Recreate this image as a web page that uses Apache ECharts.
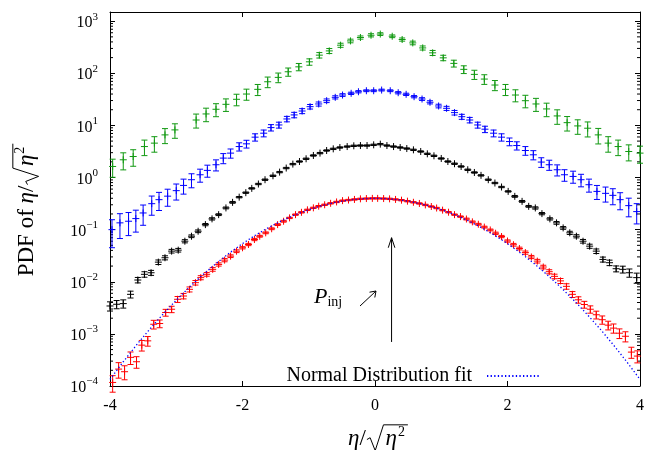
<!DOCTYPE html>
<html><head><meta charset="utf-8">
<script src="https://cdn.jsdelivr.net/npm/echarts@6/dist/echarts.min.js"></script>
<style>html,body{margin:0;padding:0;background:#fff}#c{width:662px;height:450px}</style>
</head><body><div id="c"></div>
<script>
// ---------------- data ----------------
const greenX = [-3.96,-3.80,-3.65,-3.48,-3.33,-3.17,-3.02,-2.86,-2.70,-2.55,-2.40,-2.25,-2.09,-1.94,-1.77,-1.62,-1.46,-1.31,-1.15,-0.99,-0.84,-0.69,-0.52,-0.37,-0.22,-0.06,0.08,0.26,0.41,0.57,0.72,0.87,1.03,1.19,1.34,1.50,1.65,1.81,1.97,2.12,2.27,2.43,2.59,2.75,2.90,3.06,3.21,3.37,3.52,3.67,3.83,4.00];
const greenY = [1.63,2.19,2.53,3.93,4.57,6.58,8.2,null,12.7,16.6,20.4,25.4,31.7,40.0,49.2,68.8,83.5,107,133,166,223,269,346,418,486,537,566,514,445,383,307,247,198,155,119,95.3,77.5,59.5,49.2,38.3,29.8,25.8,20.7,15.2,11.3,9.78,8.83,6.58,4.57,3.93,3.16,2.94];
const greenErr = [0.38,0.36,0.35,0.33,0.33,0.32,0.31,null,0.3,0.29,0.28,0.27,0.25,0.24,0.24,0.23,0.21,0.18,0.16,0.14,0.12,0.11,0.09,0.08,0.07,0.07,0.06,0.06,0.07,0.08,0.09,0.11,0.12,0.15,0.17,0.2,0.21,0.22,0.24,0.26,0.27,0.28,0.29,0.31,0.31,0.31,0.32,0.33,0.33,0.33,0.34,0.36];

const blueX = [-3.97,-3.85,-3.72,-3.61,-3.50,-3.37,-3.26,-3.13,-3.00,-2.89,-2.77,-2.64,-2.53,-2.40,-2.29,-2.18,-2.05,-1.94,-1.81,-1.68,-1.57,-1.45,-1.33,-1.22,-1.10,-0.98,-0.85,-0.73,-0.60,-0.49,-0.36,-0.25,-0.13,-0.02,0.10,0.23,0.35,0.47,0.59,0.71,0.83,0.96,1.08,1.20,1.31,1.43,1.55,1.66,1.79,1.91,2.03,2.14,2.27,2.39,2.51,2.63,2.75,2.86,2.99,3.11,3.23,3.35,3.48,3.59,3.70,3.83,3.95];
const blueY = [0.100,0.135,0.145,0.163,0.209,0.315,0.376,0.439,0.560,0.706,0.908,1.13,1.37,1.76,2.36,2.94,3.93,4.43,5.95,7.09,9.08,10.2,13.3,15.9,18.9,22.9,25.8,29.8,34.6,38.3,41.3,44.3,46.3,46.3,47.7,46.3,42.4,39.5,35.6,32.1,27.8,23.6,21.3,17.6,14.7,12.7,10.2,8.46,7.09,5.95,4.90,4.11,3.30,2.73,1.98,1.76,1.41,1.13,1.05,0.908,0.728,0.542,0.497,0.455,0.376,0.289,0.222];
const blueErr = [0.55,0.5,0.47,0.45,0.42,0.4,0.38,0.36,0.34,0.32,0.3,0.28,0.26,0.24,0.22,0.2,0.18,0.17,0.16,0.15,0.14,0.13,0.12,0.12,0.11,0.1,0.09,0.08,0.07,0.06,0.05,0.05,0.04,0.04,0.04,0.04,0.05,0.05,0.05,0.06,0.07,0.08,0.09,0.1,0.11,0.12,0.13,0.14,0.15,0.16,0.17,0.18,0.19,0.2,0.21,0.22,0.24,0.25,0.26,0.27,0.28,0.3,0.32,0.34,0.36,0.39,0.42];

const blackX = [-4.00,-3.90,-3.80,-3.69,-3.58,-3.48,-3.38,-3.27,-3.17,-3.07,-2.97,-2.87,-2.77,-2.67,-2.56,-2.46,-2.36,-2.25,-2.15,-2.05,-1.95,-1.86,-1.76,-1.66,-1.54,-1.44,-1.34,-1.24,-1.14,-1.04,-0.93,-0.83,-0.73,-0.63,-0.53,-0.42,-0.32,-0.22,-0.12,-0.02,0.08,0.18,0.28,0.38,0.48,0.58,0.69,0.79,0.89,1.00,1.10,1.20,1.30,1.40,1.50,1.60,1.71,1.81,1.91,2.01,2.11,2.22,2.32,2.42,2.52,2.64,2.74,2.84,2.94,3.04,3.14,3.24,3.34,3.44,3.54,3.64,3.74,3.84,3.95];
const blackY = [0.00343,0.00370,0.00381,0.00574,0.0108,0.0139,0.0149,0.0238,0.0289,0.0387,0.0404,0.0600,0.0748,0.0932,0.125,0.161,0.194,0.261,0.334,0.420,0.512,0.619,0.751,0.908,1.08,1.27,1.52,1.81,2.03,2.29,2.65,2.94,3.30,3.55,3.77,3.93,4.06,4.11,4.11,4.24,4.37,4.11,3.93,3.77,3.60,3.40,3.16,2.85,2.61,2.32,2.03,1.84,1.63,1.41,1.25,1.10,0.908,0.785,0.658,0.542,0.435,0.349,0.280,0.261,0.203,0.161,0.135,0.108,0.0869,0.0748,0.0600,0.0482,0.0387,0.0268,0.0232,0.0178,0.0173,0.0149,0.0120];
const blackErr = [0.2,0.18,0.18,0.15,0.12,0.12,0.11,0.1,0.09,0.08,0.08,0.07,0.06,0.06,0.05,0.05,0.04,0.04,0.04,0.03,0.03,0.03,0.03,0.03,0.03,0.03,0.03,0.03,0.03,0.03,0.03,0.03,0.03,0.03,0.03,0.03,0.03,0.03,0.03,0.03,0.03,0.03,0.03,0.03,0.03,0.03,0.03,0.03,0.03,0.03,0.03,0.03,0.03,0.03,0.03,0.03,0.03,0.03,0.03,0.03,0.04,0.04,0.04,0.05,0.05,0.05,0.06,0.06,0.07,0.07,0.08,0.09,0.1,0.11,0.12,0.13,0.15,0.18,0.22];

const redX = [-3.96,-3.87,-3.78,-3.69,-3.60,-3.52,-3.43,-3.34,-3.25,-3.16,-3.07,-2.98,-2.89,-2.80,-2.71,-2.63,-2.54,-2.45,-2.36,-2.27,-2.18,-2.09,-2.00,-1.91,-1.82,-1.74,-1.65,-1.56,-1.47,-1.38,-1.29,-1.20,-1.11,-1.02,-0.93,-0.85,-0.76,-0.67,-0.58,-0.49,-0.40,-0.31,-0.22,-0.13,-0.04,0.04,0.13,0.22,0.31,0.40,0.49,0.58,0.67,0.76,0.85,0.93,1.02,1.11,1.20,1.29,1.38,1.47,1.56,1.65,1.74,1.82,1.91,2.00,2.09,2.18,2.27,2.36,2.45,2.54,2.63,2.71,2.80,2.89,2.98,3.07,3.16,3.25,3.34,3.43,3.52,3.60,3.69,3.78,3.87,3.96];
const redY = [1.17e-4,2.11e-4,1.88e-4,3.54e-4,2.92e-4,6.08e-4,7.35e-4,1.53e-3,1.58e-3,2.57e-3,2.97e-3,4.61e-3,5.33e-3,7.16e-3,9.61e-3,1.20e-2,1.39e-2,1.73e-2,2.15e-2,2.60e-2,3.10e-2,3.86e-2,4.49e-2,5.19e-2,6.47e-2,7.48e-2,8.69e-2,0.104,0.125,0.145,0.168,0.194,0.215,0.240,0.262,0.282,0.300,0.320,0.340,0.360,0.370,0.380,0.390,0.395,0.398,0.398,0.395,0.39,0.38,0.368,0.352,0.335,0.318,0.298,0.278,0.26,0.237,0.216,0.194,0.178,0.160,0.141,0.127,0.112,0.0987,0.0853,0.0738,0.0605,0.0514,0.0435,0.0363,0.0299,0.0249,0.0192,0.0156,0.0127,0.0104,0.00817,0.00574,0.00451,0.00366,0.00297,0.00233,0.00187,0.00147,0.00129,0.00103,0.00090,0.000447,0.000375];
const redErr = [0.35,0.33,0.3,0.27,0.25,0.23,0.21,0.19,0.17,0.15,0.14,0.13,0.12,0.11,0.1,0.09,0.08,0.08,0.07,0.07,0.06,0.06,0.05,0.05,0.05,0.04,0.04,0.04,0.04,0.04,0.03,0.03,0.03,0.03,0.03,0.03,0.03,0.03,0.03,0.03,0.03,0.03,0.03,0.03,0.03,0.03,0.03,0.03,0.03,0.03,0.03,0.03,0.03,0.03,0.03,0.03,0.03,0.03,0.03,0.03,0.04,0.04,0.04,0.04,0.04,0.05,0.05,0.05,0.06,0.06,0.07,0.07,0.08,0.08,0.09,0.1,0.11,0.12,0.13,0.14,0.15,0.16,0.17,0.18,0.19,0.2,0.21,0.22,0.24,0.26];

// normal distribution fit (mu = 0, sigma = 1), sampled values
const fitX = [-4.0,-3.8,-3.6,-3.4,-3.2,-3.0,-2.8,-2.6,-2.4,-2.2,-2.0,-1.8,-1.6,-1.4,-1.2,-1.0,-0.8,-0.6,-0.4,-0.2,0,0.2,0.4,0.6,0.8,1.0,1.2,1.4,1.6,1.8,2.0,2.2,2.4,2.6,2.8,3.0,3.2,3.4,3.6,3.8,4.0];
const fitY = [0.0001338,0.0002919,0.0006119,0.001232,0.002384,0.004432,0.007915,0.01358,0.02239,0.03547,0.05399,0.07895,0.1109,0.1497,0.1942,0.2420,0.2897,0.3332,0.3683,0.3910,0.3989,0.3910,0.3683,0.3332,0.2897,0.2420,0.1942,0.1497,0.1109,0.07895,0.05399,0.03547,0.02239,0.01358,0.007915,0.004432,0.002384,0.001232,0.0006119,0.0002919,0.0001338];

// annotation arrow (x, from y, to y)
const arrowX = [0.25];
const arrowFrom = [7e-4];
const arrowTo = [0.07];

const xTickLabels = ['-4','-2','0','2','4'];
const yDecadeExps = [-4,-3,-2,-1,0,1,2,3];

// ---------------- chart ----------------
const FONT = "'Liberation Serif', 'Times New Roman', serif";
const chart = echarts.init(document.getElementById('c'), null, {renderer: 'canvas'});
const mctx = document.createElement('canvas').getContext('2d');
function tw(text, size, style) { mctx.font = (style || '') + ' ' + size + 'px ' + FONT; return mctx.measureText(text).width; }

function errSeries(name, xs, ys, es, color) {
  const data = [];
  xs.forEach((x, i) => {
    if (ys[i] == null) return;
    const v = ys[i], r = es[i];
    data.push([x, v, Math.max(v * (1 - r), 1e-6), v * (1 + r)]);
  });
  return {
    type: 'custom', name, data, clip: false, z: 3,
    encode: {x: 0, y: 1},
    renderItem: (params, api) => {
      const c = api.coord([api.value(0), api.value(1)]);
      const lo = api.coord([api.value(0), api.value(2)]);
      const hi = api.coord([api.value(0), api.value(3)]);
      const st = {stroke: color, lineWidth: 1, fill: null};
      const cap = 3, arm = 3.5;
      return {type: 'group', children: [
        {type: 'line', shape: {x1: c[0], y1: hi[1], x2: c[0], y2: lo[1]}, style: st},
        {type: 'line', shape: {x1: c[0] - cap, y1: hi[1], x2: c[0] + cap, y2: hi[1]}, style: st},
        {type: 'line', shape: {x1: c[0] - cap, y1: lo[1], x2: c[0] + cap, y2: lo[1]}, style: st},
        {type: 'line', shape: {x1: c[0] - arm, y1: c[1], x2: c[0] + arm, y2: c[1]}, style: st},
        {type: 'line', shape: {x1: c[0], y1: c[1] - arm, x2: c[0], y2: c[1] + arm}, style: st}
      ]};
    }
  };
}

// log minor ticks at 2..9 x 10^n
const minorVals = [];
yDecadeExps.forEach(n => { for (let k = 2; k <= 9; k++) { const v = k * Math.pow(10, n); if (v <= 1500) minorVals.push([v]); } });

function supLabel(v) {
  const l = Math.log10(v), n = Math.round(l);
  if (Math.abs(l - n) > 1e-6) return '';
  return '{b|10}{s|' + (n < 0 ? '\u2212' + (-n) : n) + '}';
}

// title builder: "prefix η/√η²" (baseline at local y = 0)
function titleParts(prefix, size) {
  const w0 = tw(prefix, size) + tw('\u03B7', size, 'italic') + tw('/', size);
  const rW = 0.72 * size;
  const etaW = tw('\u03B7', size, 'italic');
  const supS = Math.round(size * 0.62);
  const supW = tw('2', supS);
  const inner = 2 + etaW + 1 + supW + 3;
  return {w0, rW, etaW, supS, supW, inner, total: w0 + 1 + rW + inner};
}
function titleChildren(prefix, size) {
  const p = titleParts(prefix, size);
  const mid = -0.3 * size;
  const barY = -0.92 * size;
  const a = p.w0 + 1;
  const ex = a + p.rW + 2;
  return [
    {type: 'text', x: 0, y: mid, style: {text: prefix + '{i|\u03B7}/', fill: '#000', fontFamily: FONT, fontSize: size, verticalAlign: 'middle', align: 'left',
      rich: {i: {fontStyle: 'italic', fontFamily: FONT, fontSize: size, fill: '#000'}}}},
    {type: 'polyline', shape: {points: [[a, -0.28 * size], [a + 0.14 * size, -0.36 * size], [a + 0.36 * size, 0.2 * size], [a + p.rW, barY], [a + p.rW + p.inner, barY]]}, style: {stroke: '#000', lineWidth: 1, fill: null}},
    {type: 'text', x: ex, y: mid, style: {text: '\u03B7', fill: '#000', fontFamily: FONT, fontStyle: 'italic', fontSize: size, verticalAlign: 'middle', align: 'left'}},
    {type: 'text', x: ex + p.etaW + 1, y: -0.6 * size, style: {text: '2', fill: '#000', fontFamily: FONT, fontSize: p.supS, verticalAlign: 'middle', align: 'left'}}
  ];
}

const xtSize = 23, ytSize = 23;
const xtp = titleParts('', xtSize), ytp = titleParts('PDF of ', ytSize);

const axisBase = {
  axisLine: {show: true, onZero: false, lineStyle: {color: '#000', width: 1}},
  splitLine: {show: false}
};

const option = {
  animation: false,
  backgroundColor: '#fff',
  grid: {left: 110, right: 22, top: 12, bottom: 64, containLabel: false, outerBoundsMode: 'none'},
  legend: {
    data: ['Normal Distribution fit'], right: 117, top: 361, align: 'right', selectedMode: false,
    itemWidth: 52, itemHeight: 10,
    itemStyle: {color: 'rgba(0,0,0,0)', borderWidth: 0, opacity: 0},
    textStyle: {fontFamily: FONT, fontSize: 20, color: '#000', padding: [0, 10, 0, 0]}
  },
  xAxis: [
    Object.assign({type: 'value', min: -4, max: 4, interval: 2, position: 'bottom',
      axisTick: {show: true, inside: true, length: 5, lineStyle: {color: '#000'}},
      axisLabel: {show: true, margin: 12, fontFamily: FONT, fontSize: 16, color: '#000',
        formatter: v => xTickLabels[Math.round((v + 4) / 2)] || ''}}, axisBase),
    Object.assign({type: 'value', min: -4, max: 4, interval: 2, position: 'top',
      axisTick: {show: true, inside: true, length: 5, lineStyle: {color: '#000'}},
      axisLabel: {show: false}}, axisBase)
  ],
  yAxis: [
    Object.assign({type: 'log', logBase: 10, min: 1e-4, max: 1500, splitNumber: 8, position: 'left',
      axisTick: {show: true, inside: true, length: 5, lineStyle: {color: '#000'}},
      axisLabel: {show: true, margin: 12, formatter: supLabel,
        rich: {b: {fontFamily: FONT, fontSize: 16, color: '#000', lineHeight: 20, verticalAlign: 'bottom'},
               s: {fontFamily: FONT, fontSize: 11, color: '#000', lineHeight: 12, verticalAlign: 'top'}}}}, axisBase),
    Object.assign({type: 'log', logBase: 10, min: 1e-4, max: 1500, splitNumber: 8, position: 'right',
      axisTick: {show: true, inside: true, length: 5, lineStyle: {color: '#000'}},
      axisLabel: {show: false}}, axisBase)
  ],
  series: [
    {type: 'custom', name: 'minor', data: minorVals, clip: false, silent: true, encode: {y: 0},
      renderItem: (params, api) => {
        const v = api.value(0);
        const p = api.coord([-4, v]), q = api.coord([4, v]);
        const st = {stroke: '#000', lineWidth: 1};
        return {type: 'group', children: [
          {type: 'line', shape: {x1: p[0], y1: p[1], x2: p[0] + 3, y2: p[1]}, style: st},
          {type: 'line', shape: {x1: q[0] - 3, y1: q[1], x2: q[0], y2: q[1]}, style: st}
        ]};
      }},
    errSeries('green', greenX, greenY, greenErr, '#119911'),
    errSeries('blue', blueX, blueY, blueErr, '#0000ff'),
    errSeries('black', blackX, blackY, blackErr, '#000000'),
    errSeries('red', redX, redY, redErr, '#ff0000'),
    {type: 'line', name: 'Normal Distribution fit', data: fitX.map((x, i) => [x, fitY[i]]),
      symbol: 'none', showSymbol: false, smooth: false, z: 4,
      lineStyle: {color: '#0000ff', width: 1.3, type: [1.3, 2.3]}, itemStyle: {color: '#0000ff'}},
    {type: 'custom', name: 'arrow', data: arrowX.map((x, i) => [x, arrowFrom[i], arrowTo[i]]), clip: false, z: 5,
      encode: {x: 0, y: 1},
      renderItem: (params, api) => {
        const a = api.coord([api.value(0), api.value(1)]);
        const b = api.coord([api.value(0), api.value(2)]);
        const st = {stroke: '#000', lineWidth: 1, fill: null};
        return {type: 'group', children: [
          {type: 'line', shape: {x1: a[0], y1: a[1], x2: b[0], y2: b[1]}, style: st},
          {type: 'polyline', shape: {points: [[b[0] - 3.3, b[1] + 10], [b[0], b[1]], [b[0] + 3.3, b[1] + 10]]}, style: st}
        ]};
      }}
  ],
  graphic: [
    // x axis title
    {type: 'group', x: 378 - xtp.total / 2, y: 446, children: titleChildren('', xtSize)},
    // y axis title (rotated, reads bottom to top)
    {type: 'group', x: 34, y: 210 + ytp.total / 2, rotation: Math.PI / 2, children: titleChildren('PDF of ', ytSize)},
    // P_inj annotation
    {type: 'text', x: 314, y: 297, style: {text: '{p|P}{sub|inj}', verticalAlign: 'middle', align: 'left',
      rich: {p: {fontFamily: FONT, fontStyle: 'italic', fontSize: 22, fill: '#000', lineHeight: 24, verticalAlign: 'middle'},
             sub: {fontFamily: FONT, fontSize: 14, fill: '#000', lineHeight: 14, verticalAlign: 'bottom'}}}},
    {type: 'group', children: [
      {type: 'line', shape: {x1: 360, y1: 306, x2: 376, y2: 291}, style: {stroke: '#000', lineWidth: 1}},
      {type: 'polyline', shape: {points: [[369.5, 292.2], [376, 291], [374.8, 297.5]]}, style: {stroke: '#000', lineWidth: 1, fill: null}}
    ]}
  ]
};
chart.setOption(option);
</script>
</body></html>
